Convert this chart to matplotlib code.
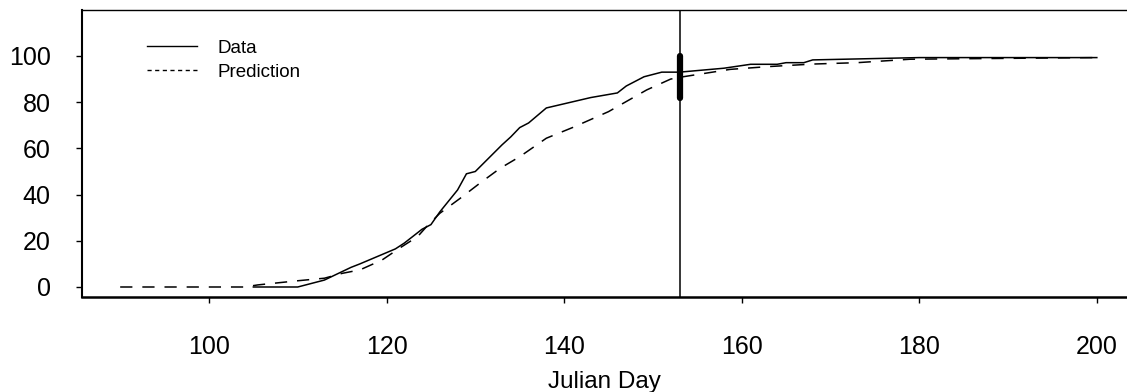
import matplotlib
matplotlib.use("Agg")
import matplotlib.pyplot as plt
from matplotlib.lines import Line2D

plt.rcParams['font.family'] = ['Liberation Sans', 'DejaVu Sans']

# Observed data (Julian day, percent)
obs_day = [105, 110, 113, 116, 117, 121, 122, 124, 125, 126, 128, 129, 130,
           133, 134, 135, 136, 138, 143, 146, 147, 149, 151, 153, 158, 161,
           164, 165, 167, 168, 180, 200]
obs_val = [0, 0, 3, 8.5, 10, 16.5, 19, 25, 27, 32.5, 42, 49, 50,
           61.5, 65, 69, 71, 77.5, 82, 84, 87, 91, 93, 93, 94.7, 96.4,
           96.4, 97.1, 97.1, 98.3, 99.3, 99.3]

# Model prediction
pred_day = [90, 104, 105.5, 110, 113, 115, 117, 119.5, 121.5, 123.5, 124.5, 126,
            128.3, 130.5, 132.8, 135, 138, 141, 145, 149.3, 152, 153.4, 158.7,
            163, 168, 173, 179, 200]
pred_val = [0, 0, 0.9, 2.7, 3.8, 5.9, 7.4, 11.7, 16.9, 21.8, 26.1, 31.9,
            38.4, 44.9, 51.4, 56.4, 64.4, 69.1, 75.9, 85.3, 90, 91, 94.2,
            95.4, 96.5, 97.1, 98.6, 99.3]

# Vertical marker and its range bar
marker_day = 153
bar_low, bar_high = 82, 100

x_ticks = [100, 120, 140, 160, 180, 200]
y_ticks = [0, 20, 40, 60, 80, 100]

fig = plt.figure(figsize=(11.27, 3.92), dpi=100)
ax = fig.add_axes([82 / 1127, 95 / 392, 1 - 82 / 1127, 287 / 392])

ax.plot(obs_day, obs_val, color='black', lw=1.1, solid_joinstyle='miter')
ax.plot(pred_day, pred_val, color='black', lw=1.1, dashes=(8, 6.5))
ax.axvline(marker_day, color='black', lw=1.1)
ax.plot([marker_day, marker_day], [bar_low, bar_high], color='black', lw=4.5,
        solid_capstyle='round')

ax.set_xlim(85.7, 203.4)
ax.set_ylim(-4.33, 119.9)
ax.set_xticks(x_ticks)
ax.set_yticks(y_ticks)
ax.tick_params(axis='x', direction='out', length=4.5, width=1, pad=22.5, labelsize=18)
ax.tick_params(axis='y', direction='out', length=4.5, width=1, pad=18, labelsize=18)
ax.set_xlabel('Julian Day', fontsize=17.5, labelpad=9)

ax.spines['right'].set_visible(False)
ax.spines['top'].set_linewidth(1.0)
ax.spines['left'].set_linewidth(1.5)
ax.spines['bottom'].set_linewidth(1.8)

handles = [Line2D([], [], color='black', lw=1.0),
           Line2D([], [], color='black', lw=1.0, dashes=(3, 2.5))]
ax.legend(handles, ['Data', 'Prediction'], loc='upper left',
          bbox_to_anchor=(0.0464, 0.956), frameon=False, fontsize=13.5,
          handlelength=2.67, handletextpad=1.08, labelspacing=0.38)

fig.savefig('out.png', dpi=100)
